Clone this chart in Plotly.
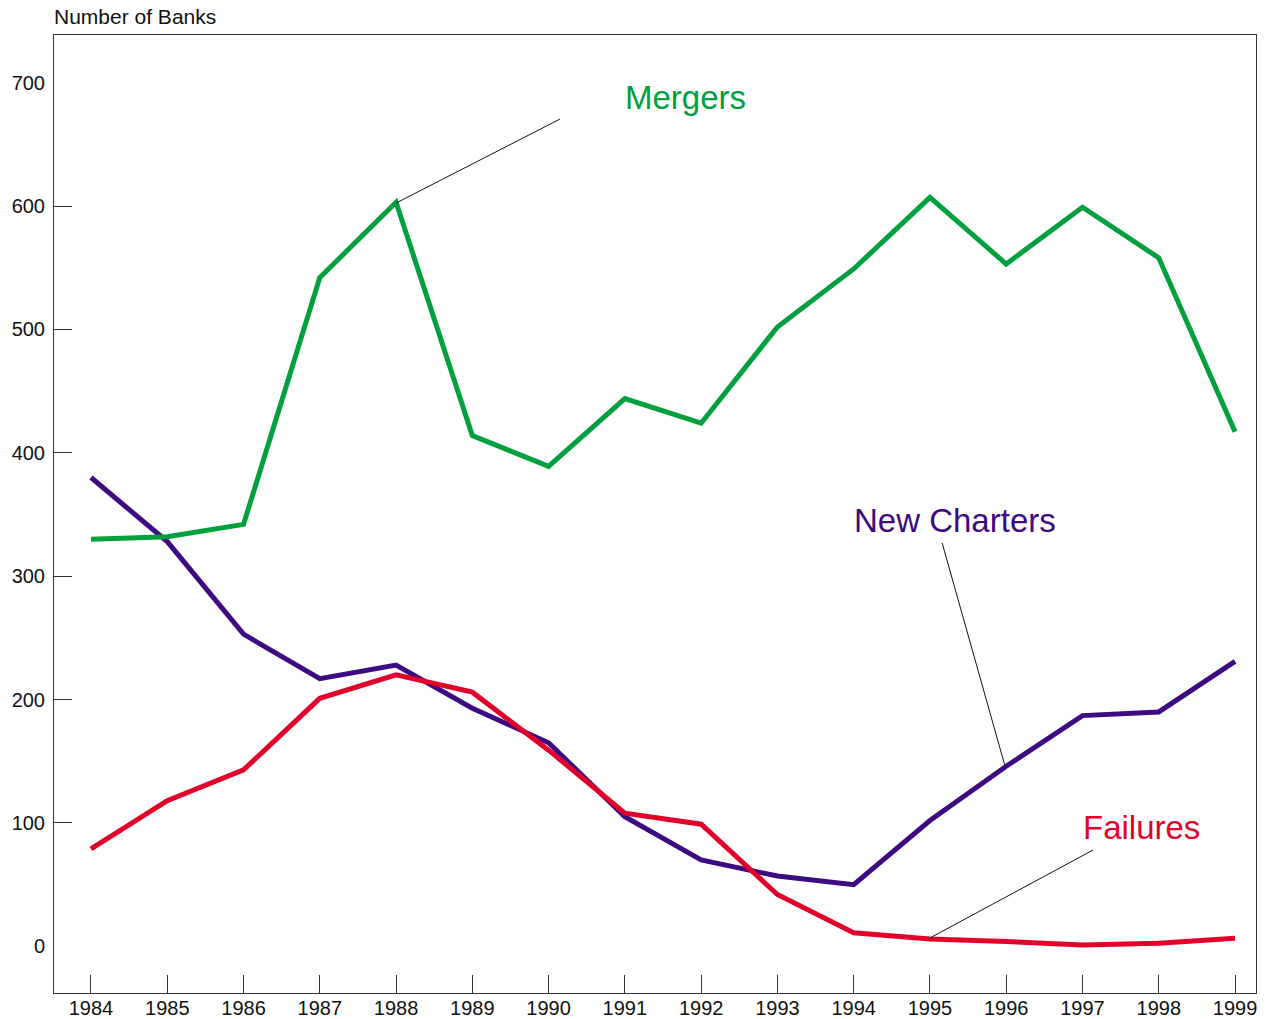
import plotly.graph_objects as go

years = list(range(1984, 2000))
mergers = [330, 332, 342, 542, 603, 414, 389, 444, 424, 502, 549, 607, 553, 599, 558, 417]
new_charters = [380, 328, 253, 217, 228, 193, 165, 105, 70, 57, 50, 102, 146, 187, 190, 231]
failures = [79, 118, 143, 201, 220, 206, 159, 108, 99, 42, 11, 6, 4, 1, 2.5, 6.5]

y_labels = [0, 100, 200, 300, 400, 500, 600, 700]
y_ticks = [100, 200, 300, 400, 500, 600]

GREEN = "#00a03e"
PURPLE = "#3d0a82"
RED = "#e2002a"
FONT = "Liberation Sans, Arial, sans-serif"

fig = go.Figure()
fig.add_trace(go.Scatter(x=years, y=new_charters, mode="lines",
                         line=dict(color=PURPLE, width=5), name="New Charters"))
fig.add_trace(go.Scatter(x=years, y=mergers, mode="lines",
                         line=dict(color=GREEN, width=5), name="Mergers"))
fig.add_trace(go.Scatter(x=years, y=failures, mode="lines",
                         line=dict(color=RED, width=5), name="Failures"))

# leader lines
for (x0, y0, x1, y1) in [(1988.0, 602.4, 1990.15, 670.5),
                         (1995.16, 326.9, 1995.98, 147.0),
                         (1997.14, 78.1, 1995.0, 6.8)]:
    fig.add_shape(type="line", x0=x0, y0=y0, x1=x1, y1=y1, xref="x", yref="y",
                  line=dict(color="#111111", width=1))

fig.add_annotation(x=1991.79, y=688.3, text="Mergers", showarrow=False,
                   font=dict(size=33, color=GREEN, family=FONT))
fig.add_annotation(x=1995.33, y=345.5, text="New Charters", showarrow=False,
                   font=dict(size=33, color=PURPLE, family=FONT))
fig.add_annotation(x=1997.77, y=96, text="Failures", showarrow=False,
                   font=dict(size=33, color=RED, family=FONT))
fig.add_annotation(x=0, y=1, xref="paper", yref="paper", xanchor="left", yanchor="bottom",
                   yshift=5, xshift=-2, text="Number of Banks", showarrow=False,
                   font=dict(size=21, color="#111111", family=FONT))

fig.update_layout(
    width=1275, height=1019,
    margin=dict(l=54, r=19, t=35, b=26, autoexpand=False),
    paper_bgcolor="white", plot_bgcolor="white",
    showlegend=False,
    font=dict(family=FONT, size=20, color="#111111"),
    xaxis=dict(range=[1983.515, 1999.275], tickvals=years, ticks="inside", ticklen=18,
               tickwidth=1, tickcolor="#333333", showgrid=False, zeroline=False,
               showline=True, linecolor="#333333", linewidth=1, mirror=True,
               automargin=False, ticklabelstandoff=-3,
               tickfont=dict(size=20, family=FONT, color="#111111")),
    yaxis=dict(range=[-37.8, 738.6], tickvals=y_labels, ticks="", showgrid=False,
               zeroline=False, showline=True, linecolor="#333333", linewidth=1, mirror=True,
               automargin=False, ticklabelstandoff=4,
               tickfont=dict(size=20, family=FONT, color="#111111"),
               minor=dict(tickvals=y_ticks, ticks="inside", ticklen=18, tickwidth=1,
                          tickcolor="#333333", showgrid=False)),
)

fig.write_html("out.html", config={"displayModeBar": False},
               post_script="document.body.style.margin='0';document.body.style.overflow='hidden';")
